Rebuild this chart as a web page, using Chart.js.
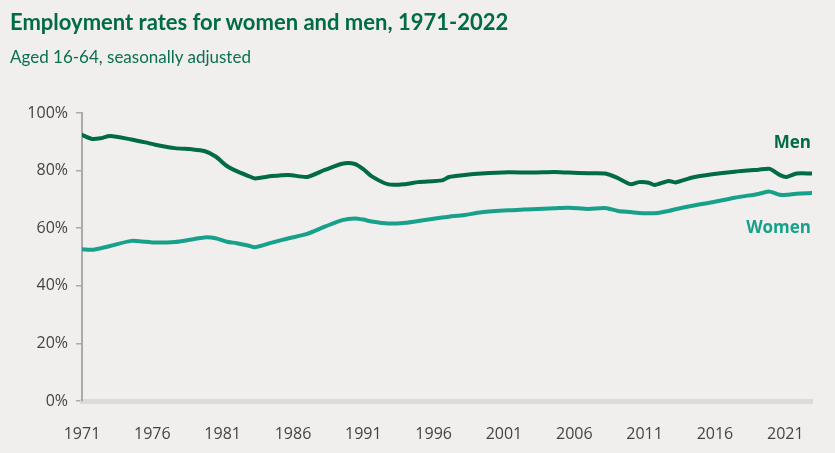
<!DOCTYPE html>
<html>
<head>
<meta charset="utf-8">
<script src="https://cdn.jsdelivr.net/npm/chart.js@4.4.0/dist/chart.umd.min.js"></script>
<style>
  body { margin: 0; background: #f0efed; }
  #wrap { position: relative; width: 835px; height: 453px; }
  #title { position: absolute; left: 10px; top: 8px; font: 700 22px Lato, sans-serif; color: #006b45; line-height: 28px; }
  #sub { position: absolute; left: 10px; top: 46px; font: 400 17px Lato, sans-serif; color: #0b7050; line-height: 22px; }
  canvas { position: absolute; left: 0; top: 0; }
</style>
</head>
<body>
<div id="wrap">
  <canvas id="chart" width="835" height="453"></canvas>
  <div id="title">Employment rates for women and men, 1971-2022</div>
  <div id="sub">Aged 16-64, seasonally adjusted</div>
</div>
<script>
// values, x in decimal years
const years = [1971.0, 1971.7, 1972.3, 1973.0, 1974.5, 1975.5, 1976.2, 1977.6, 1978.8, 1979.7,
  1980.5, 1981.3, 1982.0, 1982.8, 1983.3, 1984.5, 1985.7, 1987.0, 1988.3, 1989.5,
  1990.4, 1991.0, 1991.6, 1992.8, 1994.0, 1994.9, 1996.6, 1997.1, 1998.2, 1999.4,
  2001.3, 2003.0, 2004.6, 2005.6, 2007.0, 2008.2, 2009.1, 2010.0, 2010.6, 2011.3,
  2011.7, 2012.7, 2013.2, 2014.4, 2015.8, 2017.4, 2019.1, 2019.9, 2020.6, 2021.1,
  2021.8, 2022.9];
const men = [92.4, 91.0, 91.2, 92.0, 90.8, 89.8, 89.0, 87.8, 87.4, 86.8,
  84.9, 81.6, 79.8, 78.2, 77.3, 78.1, 78.5, 77.8, 80.3, 82.4,
  82.3, 80.5, 78.0, 75.2, 75.3, 76.0, 76.6, 77.8, 78.5, 79.0,
  79.4, 79.3, 79.5, 79.3, 79.1, 79.0, 77.4, 75.3, 76.0, 75.8,
  75.0, 76.4, 75.9, 77.6, 78.7, 79.6, 80.3, 80.6, 78.5, 77.8,
  79.0, 79.0];
const women = [52.7, 52.5, 53.0, 53.8, 55.6, 55.3, 55.0, 55.2, 56.1, 56.8,
  56.5, 55.3, 54.8, 54.0, 53.4, 55.0, 56.5, 58.0, 60.6, 62.8,
  63.4, 63.0, 62.3, 61.6, 61.9, 62.5, 63.7, 64.0, 64.6, 65.5,
  66.2, 66.6, 66.9, 67.1, 66.7, 67.0, 66.0, 65.6, 65.3, 65.2,
  65.2, 66.0, 66.6, 67.8, 69.0, 70.6, 71.9, 72.7, 71.6, 71.6,
  72.0, 72.2];
const xTicks = [1971, 1976, 1981, 1986, 1991, 1996, 2001, 2006, 2011, 2016, 2021];
const yTicks = [0, 20, 40, 60, 80, 100];
const seriesLabels = [
  { text: "Men", value: 89.7, color: "#006b45" },
  { text: "Women", value: 60.1, color: "#17a18a" }
];

const endLabels = {
  id: "endLabels",
  afterDatasetsDraw(chart) {
    const { ctx, scales } = chart;
    ctx.save();
    ctx.font = "700 17px 'Open Sans', sans-serif";
    ctx.textAlign = "right";
    ctx.textBaseline = "middle";
    seriesLabels.forEach(l => {
      ctx.fillStyle = l.color;
      ctx.fillText(l.text, scales.x.right - 1, scales.y.getPixelForValue(l.value));
    });
    ctx.restore();
  }
};

new Chart(document.getElementById("chart"), {
  type: "line",
  data: {
    datasets: [
      { label: "Men", data: years.map((y, i) => ({ x: y, y: men[i] })), borderColor: "#006b45" },
      { label: "Women", data: years.map((y, i) => ({ x: y, y: women[i] })), borderColor: "#17a18a" }
    ]
  },
  options: {
    responsive: false,
    animation: false,
    layout: { padding: { top: 113, right: 23, bottom: 0, left: 0 } },
    elements: {
      line: { borderWidth: 4, tension: 0.25, borderCapStyle: "round" },
      point: { radius: 0 }
    },
    plugins: { legend: { display: false }, tooltip: { enabled: false }, title: { display: false } },
    scales: {
      x: {
        type: "linear",
        min: 1971,
        max: 2022.9,
        afterBuildTicks: s => { s.ticks = xTicks.map(v => ({ value: v })); },
        afterFit: s => { s.height = 52; },
        grid: { display: false },
        border: { display: true, color: "#dcdbd9", width: 5 },
        ticks: { padding: 16, color: "#444", font: { family: "'Open Sans', sans-serif", size: 16 }, maxRotation: 0, callback: v => String(v) }
      },
      y: {
        min: 0,
        max: 100,
        afterBuildTicks: s => { s.ticks = yTicks.map(v => ({ value: v })); },
        afterFit: s => { s.width = 82; },
        grid: { drawOnChartArea: false, tickLength: 6, color: "#aaa", lineWidth: 1.5 },
        border: { display: true, color: "#aaa", width: 2 },
        ticks: { padding: 8, color: "#444", font: { family: "'Open Sans', sans-serif", size: 16 }, callback: v => v + "%" }
      }
    }
  },
  plugins: [endLabels]
});
</script>
</body>
</html>
